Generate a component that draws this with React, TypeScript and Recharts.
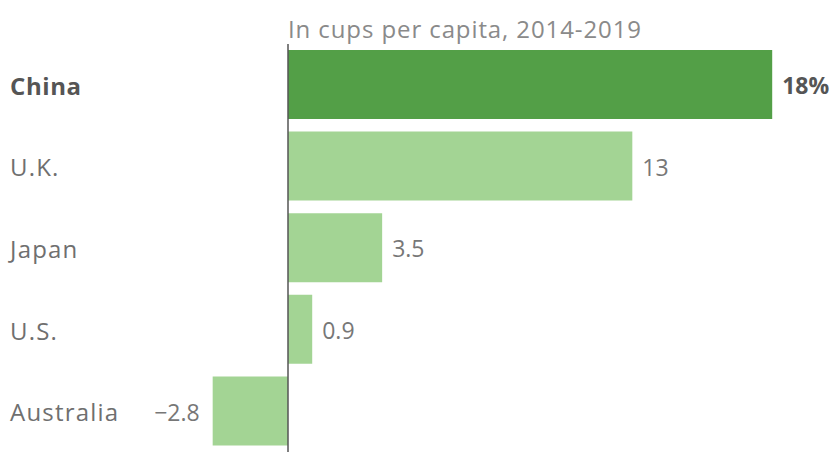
import { BarChart, Bar, XAxis, YAxis, Cell, LabelList, ReferenceLine } from "recharts";

const countries = ["China", "U.K.", "Japan", "U.S.", "Australia"];
const growth = [18, 12.8, 3.5, 0.9, -2.8];
const valueLabels = ["18%", "13", "3.5", "0.9", "\u22122.8"];

const data = countries.map((name, i) => ({ name, value: growth[i], label: valueLabels[i] }));

const FONT = "'Open Sans', Roboto, sans-serif";

// eslint-disable-next-line @typescript-eslint/no-explicit-any
function CountryTick(props: any) {
  const { y, payload } = props;
  const bold = payload.index === 0;
  return (
    <text
      x={10}
      y={y}
      dy="0.42em"
      textAnchor="start"
      fontFamily={FONT}
      fontSize={24}
      letterSpacing={bold ? 0.6 : 1.2}
      fontWeight={bold ? 700 : 400}
      fill={bold ? "#555555" : "#6f6f6f"}
    >
      {payload.value}
    </text>
  );
}

// eslint-disable-next-line @typescript-eslint/no-explicit-any
function ValueLabel(props: any) {
  const { x, y, width, height, index } = props;
  const end = x + width;
  const neg = width < 0;
  return (
    <text
      x={neg ? end - 13 : end + 10}
      y={y + height / 2}
      dy="0.42em"
      textAnchor={neg ? "end" : "start"}
      fontFamily={FONT}
      fontSize={23}
      fontWeight={index === 0 ? 700 : 400}
      fill={index === 0 ? "#555555" : "#777777"}
    >
      {valueLabels[index]}
    </text>
  );
}

export default function App() {
  return (
    <div style={{ position: "absolute", left: 0, top: 0, width: 834, height: 452, background: "#fff" }}>
      <svg width={834} height={452} style={{ position: "absolute", left: 0, top: 0 }}>
        <text x={288} y={38} fontFamily={FONT} fontSize={24} letterSpacing={0.9} fill="#8a8a8a">
          In cups per capita, 2014-2019
        </text>
      </svg>
      <div style={{ position: "absolute", left: 0, top: 0 }}>
        <BarChart
          width={834}
          height={452}
          data={data}
          layout="vertical"
          margin={{ top: 44, right: 8, left: 0, bottom: 0 }}
        >
          <XAxis type="number" domain={[-10, 20]} hide />
          <YAxis
            type="category"
            dataKey="name"
            width={19}
            axisLine={false}
            tickLine={false}
            tick={<CountryTick />}
            interval={0}
          />
          <Bar dataKey="value" barSize={69} isAnimationActive={false}>
            {data.map((d, i) => (
              <Cell key={d.name} fill={i === 0 ? "#539f47" : "#a3d494"} />
            ))}
            <LabelList dataKey="label" content={<ValueLabel />} />
          </Bar>
          <ReferenceLine x={0} stroke="#555555" strokeWidth={1.5} />
        </BarChart>
      </div>
    </div>
  );
}
